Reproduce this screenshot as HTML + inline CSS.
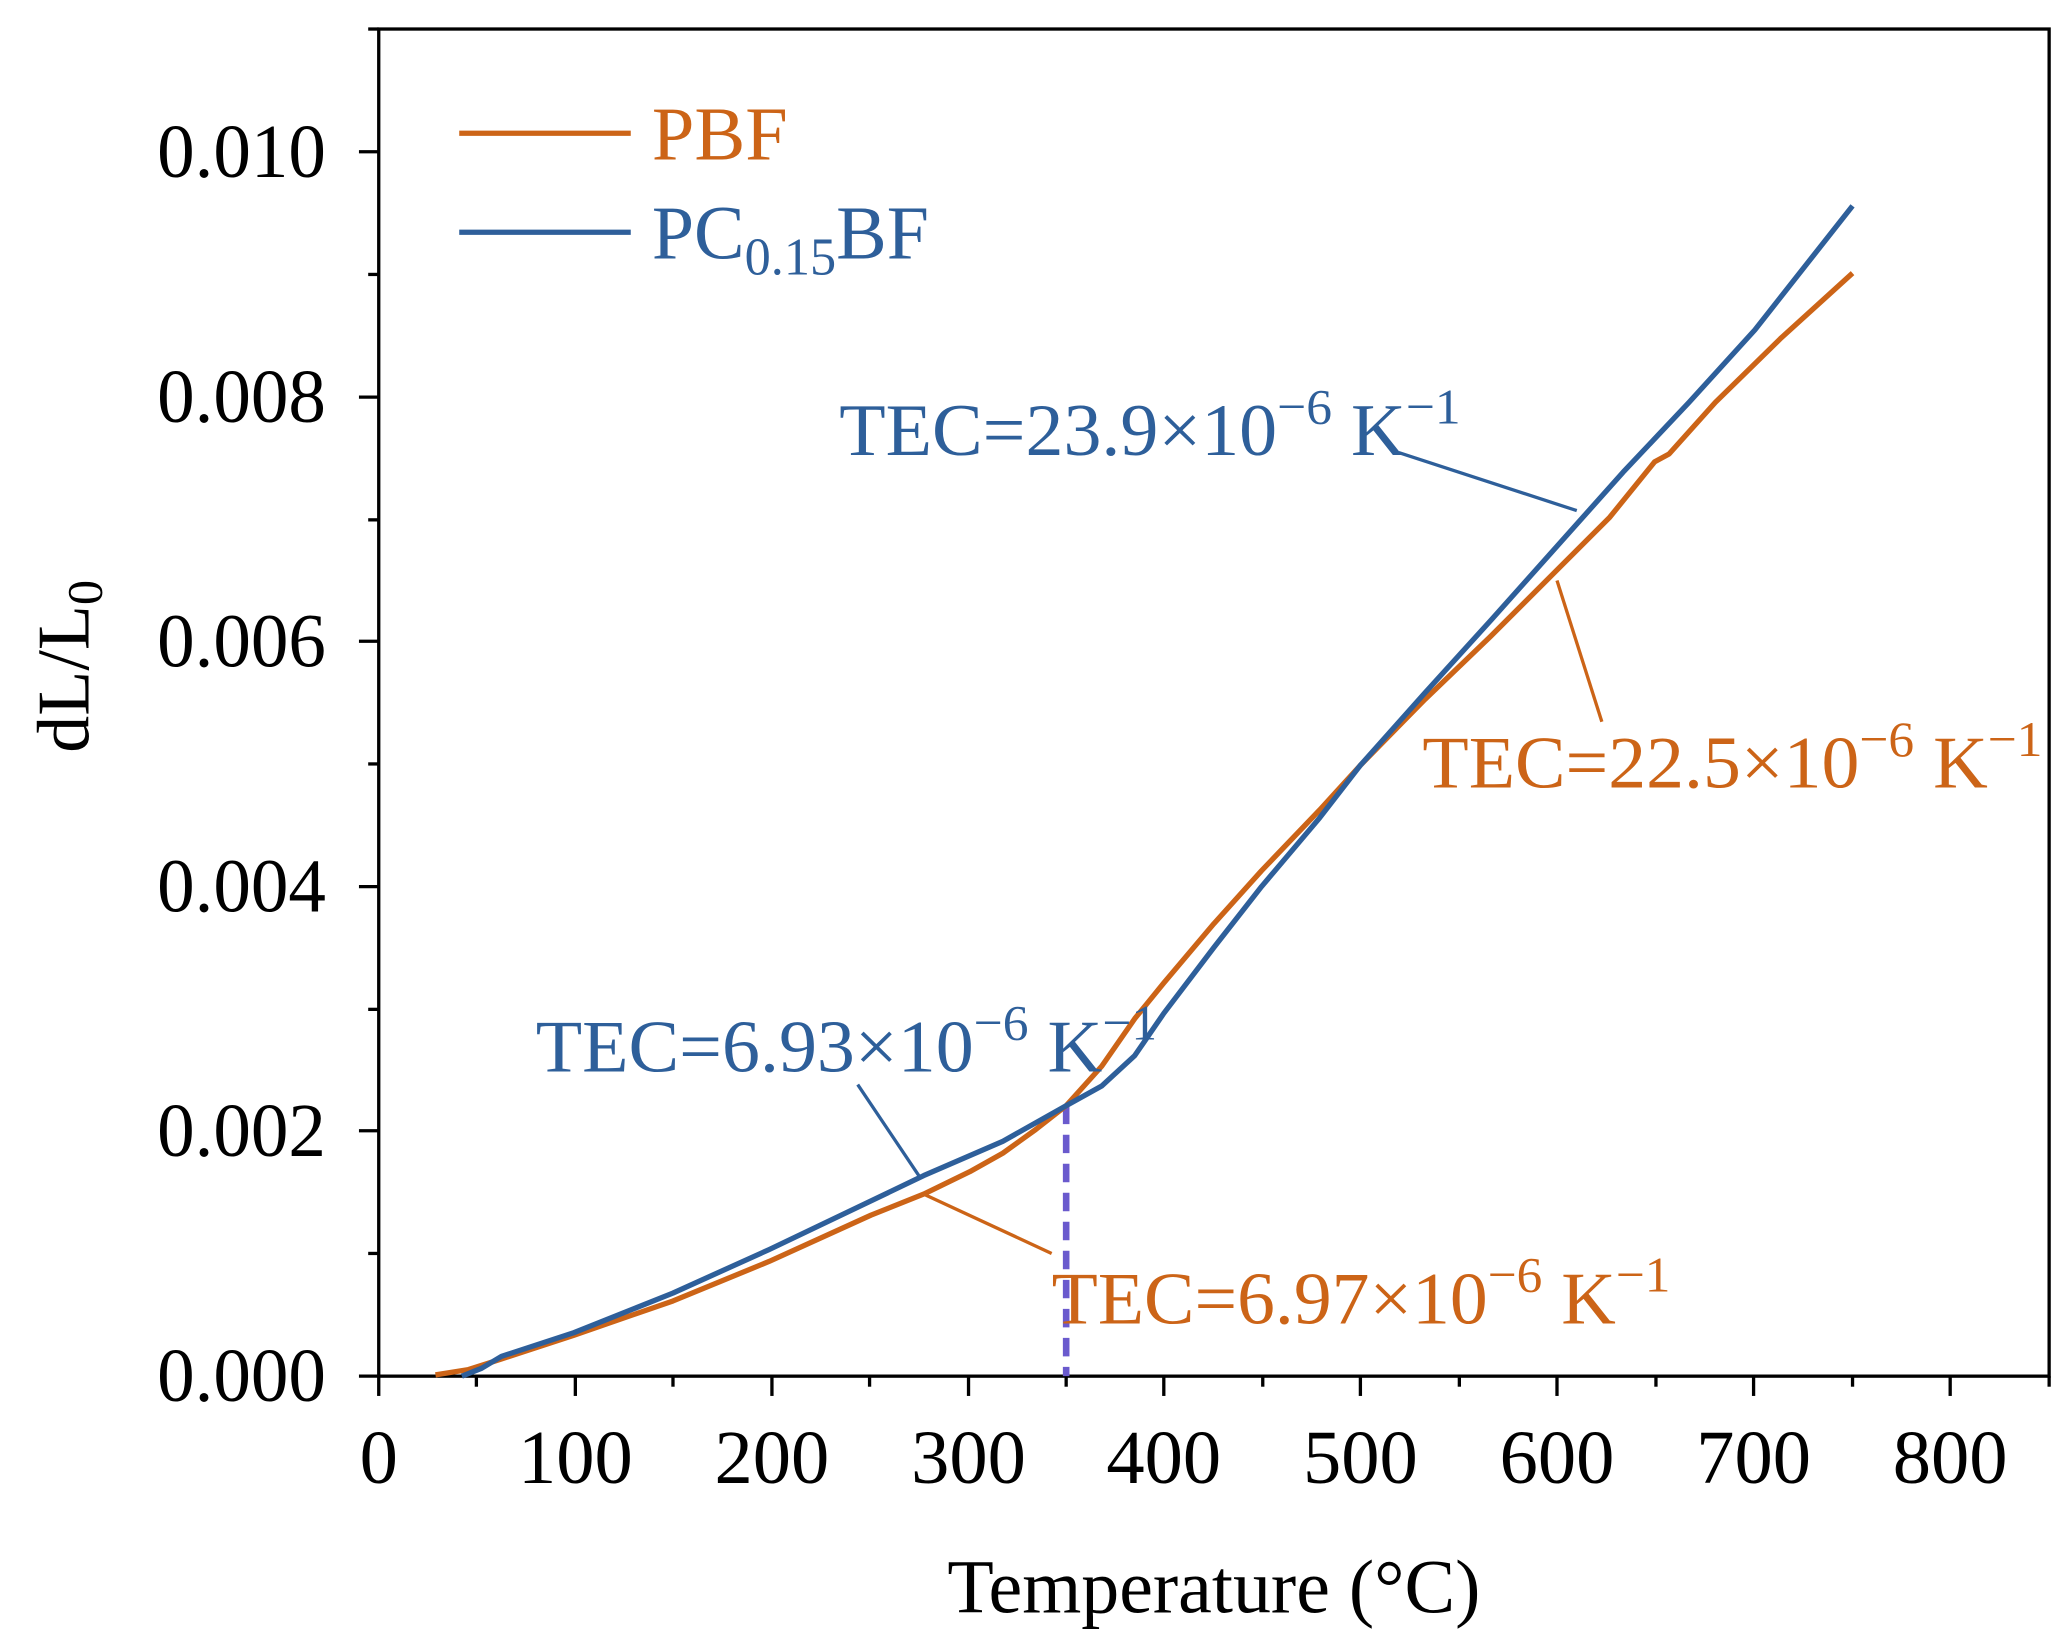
<!DOCTYPE html>
<html><head><meta charset="utf-8"><style>html,body{margin:0;padding:0;background:#fff}svg{display:block}</style></head>
<body>
<svg width="2069" height="1644" viewBox="0 0 1568 1246" xmlns="http://www.w3.org/2000/svg" font-family="'Liberation Serif',serif">
<rect width="1568" height="1246" fill="#fff"/>
<rect x="287" y="22" width="1266" height="1021" fill="none" stroke="#000" stroke-width="2.5"/>
<g stroke="#000" stroke-width="2.5">
<line x1="272" y1="1043" x2="287" y2="1043"/><line x1="272" y1="857" x2="287" y2="857"/><line x1="272" y1="672" x2="287" y2="672"/><line x1="272" y1="486" x2="287" y2="486"/><line x1="272" y1="301" x2="287" y2="301"/><line x1="272" y1="115" x2="287" y2="115"/>
<line x1="279" y1="950" x2="287" y2="950"/><line x1="279" y1="765" x2="287" y2="765"/><line x1="279" y1="579" x2="287" y2="579"/><line x1="279" y1="394" x2="287" y2="394"/><line x1="279" y1="208" x2="287" y2="208"/><line x1="279" y1="22" x2="287" y2="22"/>
<line x1="287" y1="1043" x2="287" y2="1058"/><line x1="436" y1="1043" x2="436" y2="1058"/><line x1="585" y1="1043" x2="585" y2="1058"/><line x1="734" y1="1043" x2="734" y2="1058"/><line x1="882" y1="1043" x2="882" y2="1058"/><line x1="1031" y1="1043" x2="1031" y2="1058"/><line x1="1180" y1="1043" x2="1180" y2="1058"/><line x1="1329" y1="1043" x2="1329" y2="1058"/><line x1="1478" y1="1043" x2="1478" y2="1058"/>
<line x1="361" y1="1043" x2="361" y2="1051"/><line x1="510" y1="1043" x2="510" y2="1051"/><line x1="659" y1="1043" x2="659" y2="1051"/><line x1="808" y1="1043" x2="808" y2="1051"/><line x1="957" y1="1043" x2="957" y2="1051"/><line x1="1106" y1="1043" x2="1106" y2="1051"/><line x1="1255" y1="1043" x2="1255" y2="1051"/><line x1="1404" y1="1043" x2="1404" y2="1051"/><line x1="1553" y1="1043" x2="1553" y2="1051"/>
</g>
<g font-size="58" text-anchor="end" fill="#000">
<text x="247" y="1062" textLength="128" lengthAdjust="spacingAndGlyphs">0.000</text><text x="247" y="876" textLength="128" lengthAdjust="spacingAndGlyphs">0.002</text><text x="247" y="691" textLength="128" lengthAdjust="spacingAndGlyphs">0.004</text><text x="247" y="505" textLength="128" lengthAdjust="spacingAndGlyphs">0.006</text><text x="247" y="320" textLength="128" lengthAdjust="spacingAndGlyphs">0.008</text><text x="247" y="134" textLength="128" lengthAdjust="spacingAndGlyphs">0.010</text>
</g>
<g font-size="58" text-anchor="middle" fill="#000">
<text x="287" y="1124">0</text><text x="436" y="1124">100</text><text x="585" y="1124">200</text><text x="734" y="1124">300</text><text x="882" y="1124">400</text><text x="1031" y="1124">500</text><text x="1180" y="1124">600</text><text x="1329" y="1124">700</text><text x="1478" y="1124">800</text>
<text x="920" y="1222" textLength="404" lengthAdjust="spacingAndGlyphs">Temperature (°C)</text>
</g>
<text transform="translate(67,505) rotate(-90)" font-size="56" text-anchor="middle">dL/L<tspan font-size="38" dy="10">0</tspan></text>
<line x1="808" y1="838" x2="808" y2="1043" stroke="#6a5acd" stroke-width="5" stroke-dasharray="14,8"/>
<polyline fill="none" stroke="#cc6417" stroke-width="4" stroke-linejoin="round" points="330,1042 355,1038 380,1030 435,1012 510,986 583,956 660,921 700,905 735,888 760,874 785,856 808,838 835,808 860,772 882,745 920,700 956,660 1000,614 1031,580 1080,530 1130,482 1180,432 1220,392 1254,350 1265,344 1300,305 1350,256 1404,207"/>
<polyline fill="none" stroke="#2e5f9a" stroke-width="4" stroke-linejoin="round" points="350,1043 365,1037 380,1028 435,1010 510,980 583,947 650,915 700,891 760,865 808,838 835,823 860,800 882,768 920,718 956,672 1000,620 1031,580 1080,525 1130,470 1180,414 1230,358 1280,305 1330,250 1404,156"/>
<g stroke-width="2.5">
<line x1="1060" y1="343" x2="1195" y2="387" stroke="#2e5f9a"/>
<line x1="650" y1="822" x2="697" y2="892" stroke="#2e5f9a"/>
<line x1="1180" y1="440" x2="1214" y2="547" stroke="#cc6417"/>
<line x1="700" y1="905" x2="797" y2="950" stroke="#cc6417"/>
</g>
<line x1="348" y1="101" x2="478" y2="101" stroke="#cc6417" stroke-width="4"/>
<line x1="348" y1="176" x2="478" y2="176" stroke="#2e5f9a" stroke-width="4"/>
<text x="494" y="121" font-size="58" fill="#cc6417" textLength="103" lengthAdjust="spacingAndGlyphs">PBF</text>
<text x="494" y="196" font-size="58" fill="#2e5f9a" textLength="210" lengthAdjust="spacingAndGlyphs">PC<tspan font-size="40" dy="12">0.15</tspan><tspan dy="-12">BF</tspan></text>
<g font-size="56">
<text x="636" y="345" fill="#2e5f9a" textLength="471" lengthAdjust="spacingAndGlyphs">TEC=23.9×10<tspan font-size="38" dy="-24">−6</tspan><tspan dy="24"> K</tspan><tspan font-size="38" dy="-24">−1</tspan></text>
<text x="1078" y="597" fill="#cc6417" textLength="470" lengthAdjust="spacingAndGlyphs">TEC=22.5×10<tspan font-size="38" dy="-24">−6</tspan><tspan dy="24"> K</tspan><tspan font-size="38" dy="-24">−1</tspan></text>
<text x="406" y="812" fill="#2e5f9a" textLength="471" lengthAdjust="spacingAndGlyphs">TEC=6.93×10<tspan font-size="38" dy="-24">−6</tspan><tspan dy="24"> K</tspan><tspan font-size="38" dy="-24">−1</tspan></text>
<text x="797" y="1003" fill="#cc6417" textLength="469" lengthAdjust="spacingAndGlyphs">TEC=6.97×10<tspan font-size="38" dy="-24">−6</tspan><tspan dy="24"> K</tspan><tspan font-size="38" dy="-24">−1</tspan></text>
</g>
</svg>
</body></html>
